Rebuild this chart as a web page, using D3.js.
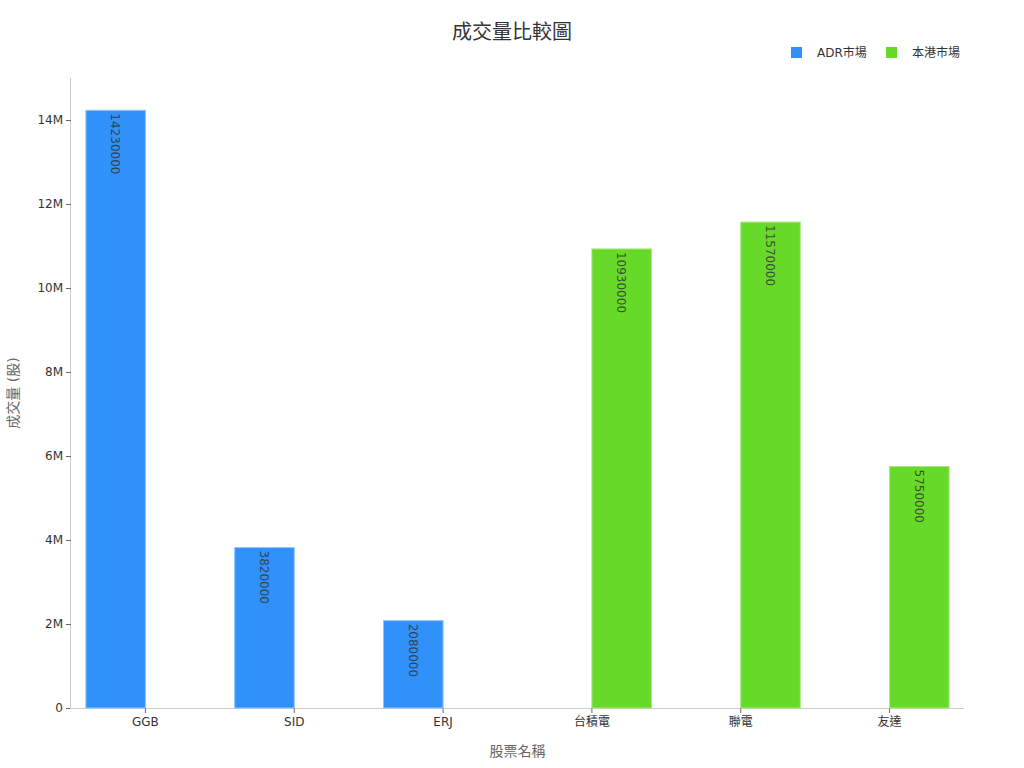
<!DOCTYPE html>
<html>
<head>
<meta charset="utf-8">
<script src="https://cdn.jsdelivr.net/npm/d3@7"></script>
<style>
  html, body { margin: 0; padding: 0; background: #fff; }
  svg text { font-family: "DejaVu Sans", "Noto Sans CJK TC", sans-serif; }
</style>
</head>
<body>
<svg id="chart" width="1024" height="768"></svg>
<script>
const categories = ["GGB", "SID", "ERJ", "台積電", "聯電", "友達"];
const seriesNames = ["ADR市場", "本港市場"];
const adrValues = [14230000, 3820000, 2080000, null, null, null];
const hkValues = [null, null, null, 10930000, 11570000, 5750000];
const yTicks = [0, 2000000, 4000000, 6000000, 8000000, 10000000, 12000000, 14000000];
const colors = ["#2f91f9", "#67da29"];
const strokes = ["#8fc4fb", "#a6e97f"];

const svg = d3.select("#chart");
const W = 1024, H = 768;
const x0 = 71, x1 = 964, yBase = 708, yTop = 78;

const x = d3.scaleBand().domain(categories).range([x0, x1]).paddingInner(0).paddingOuter(0);
const bw = x.bandwidth();
const xs = d3.scaleBand().domain(seriesNames).range([bw * 0.1, bw * 0.9]).paddingInner(0).paddingOuter(0);
const y = d3.scaleLinear().domain([0, 15000000]).range([yBase, yTop]);

// Title
svg.append("text").attr("x", 512).attr("y", 39).attr("text-anchor", "middle")
  .attr("font-size", 20).attr("fill", "#333")
  .style("font-family", "'Noto Sans CJK TC', sans-serif").text("成交量比較圖");

// Legend
const legendItems = [{ name: seriesNames[0], x: 791 }, { name: seriesNames[1], x: 886 }];
legendItems.forEach((d, i) => {
  svg.append("rect").attr("x", d.x).attr("y", 47).attr("width", 11).attr("height", 11).attr("fill", colors[i]);
  svg.append("text").attr("x", d.x + 26).attr("y", 57).attr("font-size", 12).attr("fill", "#333").text(d.name);
});

// Y axis
const yAxis = svg.append("g").attr("transform", `translate(${x0},0)`)
  .call(d3.axisLeft(y).tickValues(yTicks).tickSize(5).tickPadding(3)
    .tickFormat(d => d === 0 ? "0" : (d / 1e6) + "M"));
yAxis.select(".domain").attr("stroke", "#ccc").attr("d", `M-0.5,${yTop}V${yBase}`);
yAxis.selectAll(".tick line").attr("stroke", "#666");
yAxis.selectAll(".tick text").attr("font-size", 12).attr("fill", "#333");

// X axis
const xAxis = svg.append("g").attr("transform", `translate(0,${yBase})`)
  .call(d3.axisBottom(x).tickSize(5).tickPadding(4));
xAxis.select(".domain").attr("stroke", "#ccc").attr("d", `M${x0 - 1},0.5H${x1}`);
xAxis.selectAll(".tick line").attr("stroke", "#666");
xAxis.selectAll(".tick text").attr("font-size", 12).attr("fill", "#333");

// Axis titles
svg.append("text").attr("transform", `translate(18,${(yTop + yBase) / 2}) rotate(-90)`)
  .attr("text-anchor", "middle").attr("font-size", 14).attr("fill", "#666").text("成交量 (股)");
svg.append("text").attr("x", (x0 + x1) / 2).attr("y", 756).attr("text-anchor", "middle")
  .attr("font-size", 14).attr("fill", "#666").text("股票名稱");

// Bars
const series = [adrValues, hkValues];
series.forEach((vals, si) => {
  const data = categories.map((c, i) => ({ c, v: vals[i] })).filter(d => d.v != null);
  const g = svg.append("g");
  g.selectAll("rect").data(data).enter().append("rect")
    .attr("x", d => x(d.c) + xs(seriesNames[si]))
    .attr("y", d => y(d.v))
    .attr("width", xs.bandwidth())
    .attr("height", d => yBase - y(d.v))
    .attr("fill", colors[si])
    .attr("stroke", strokes[si]).attr("stroke-width", 1);
  g.selectAll("text").data(data).enter().append("text")
    .attr("transform", d => `translate(${x(d.c) + xs(seriesNames[si]) + xs.bandwidth() / 2},${y(d.v) + 3}) rotate(90)`)
    .attr("dy", "0.35em").attr("text-anchor", "start")
    .attr("font-size", 12).attr("fill", "#333").attr("fill-opacity", 0.85).text(d => d.v);
});
</script>
</body>
</html>
